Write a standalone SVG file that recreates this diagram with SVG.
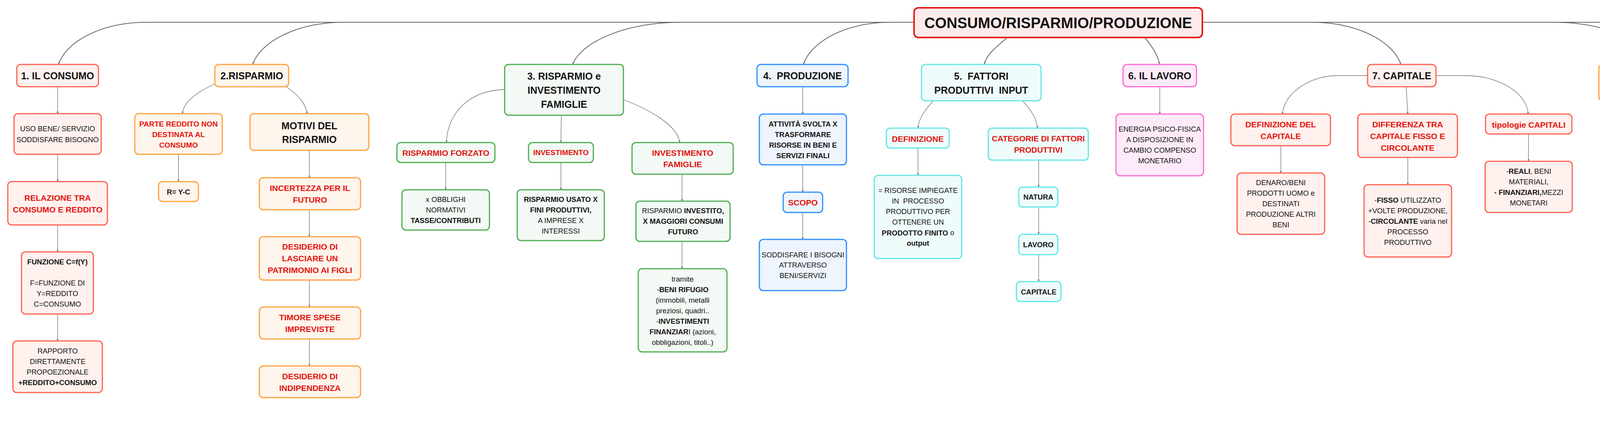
<svg xmlns="http://www.w3.org/2000/svg" width="5420" height="1124" viewBox="0 0 5420 1124" preserveAspectRatio="xMinYMin meet">
<style>
.n{stroke-width:3}
.c1{fill:#FEF1EE;stroke:#FF6150}
.c2{fill:#FEF5EC;stroke:#FFA23F}
.c3{fill:#F3F9F4;stroke:#4CAF50}
.c4{fill:#EEF5FE;stroke:#2E8FFF}
.c5{fill:#EFFCFC;stroke:#63E6E6}
.c6{fill:#FDEBF9;stroke:#FF6AD5}
.c10{fill:#FDEBEB;stroke:#E41B17}
text{font-family:"Liberation Sans",Arial,sans-serif;text-anchor:middle;dominant-baseline:central;fill:#141414}
.h0{font-size:38px;font-weight:700}
.h1{font-size:25px;font-weight:700}
.r{font-size:21px;font-weight:700;fill:#E3120B}
.r20{font-size:20.5px;font-weight:700;fill:#E3120B}
.rs{font-size:19px;font-weight:700;fill:#E3120B}
.k{font-size:18.5px;font-weight:700}
.p{font-size:18.5px}
.b{font-weight:700}
.L{text-anchor:start}
.ln{fill:none;stroke:#6b6b6b;stroke-width:1.3;marker-end:url(#a)}
.lr{fill:none;stroke:#666;stroke-width:2;marker-end:url(#a)}
</style>
<defs>
<marker id="a" markerWidth="6" markerHeight="6" refX="5" refY="3" orient="auto" markerUnits="userSpaceOnUse"><path d="M0,0.5 L5,3 L0,5.5z" fill="#666"/></marker>
</defs>

<g id="connectors">
<path class="lr" d="M2340,57 H377 C252,57 168,110.5 150,164"/>
<path class="lr" d="M2340,57 H882 C753,57 666,110.5 647,164"/>
<path class="lr" d="M2340,57 H1747 C1592,57 1488.5,110.5 1466,164"/>
<path class="lr" d="M2340,57 H2282 C2158,57 2075,110.5 2057,164"/>
<path class="lr" d="M2578,97 C2550,120 2525,140 2520,164"/>
<path class="lr" d="M2931,97 C2950,120 2964,140 2968,164"/>
<path class="lr" d="M3078,57 H3356 C3482.5,57 3567.6,110.5 3586,164"/>
<path class="lr" d="M3078,57 H3977 C4119,57 4215,110.5 4235.5,164"/>
<path class="lr" d="M3078,57 H4470 C4609.5,57 4703.3,110.5 4723.6,164"/>
<path class="lr" d="M3078,57 H4974 C5118.4,57 5215.6,110.5 5236.6,164"/>

<path class="ln" d="M147.5,222 V291"/>
<path class="ln" d="M147.5,395 V465"/>
<path class="ln" d="M147.5,576 V645"/>
<path class="ln" d="M147.5,804 V873"/>

<path class="ln" d="M550,215 C505,235 470,260 467,291"/>
<path class="ln" d="M734,223 C765,245 783,265 786,291"/>
<path class="ln" d="M457,395 V465"/>
<path class="ln" d="M792,385 V455"/>
<path class="ln" d="M792,537 V606"/>
<path class="ln" d="M792,717 V786"/>
<path class="ln" d="M792,868 V937"/>

<path class="ln" d="M1292,229 C1200,232 1145,290 1143,365"/>
<path class="ln" d="M1437,295 L1436,365"/>
<path class="ln" d="M1598,256 C1660,280 1735,320 1740,365"/>
<path class="ln" d="M1141,416 V486"/>
<path class="ln" d="M1436,416 V486"/>
<path class="ln" d="M1746,446 V515"/>
<path class="ln" d="M1746,618 V688"/>

<path class="ln" d="M2055,222 V292"/>
<path class="ln" d="M2055,422 V492"/>
<path class="ln" d="M2055,544 V613"/>

<path class="ln" d="M2389,258 C2365,285 2352,305 2350,328"/>
<path class="ln" d="M2618,258 C2642,285 2654,305 2656,328"/>
<path class="ln" d="M2350,379 V449"/>
<path class="ln" d="M2659,410 V479"/>
<path class="ln" d="M2659,530 V600"/>
<path class="ln" d="M2659,652 V721"/>

<path class="ln" d="M2969,222 V292"/>

<path class="ln" d="M3501,193.5 H3425 C3350,193.5 3287,240 3283,292"/>
<path class="ln" d="M3600,222 C3601,250 3603,270 3604,292"/>
<path class="ln" d="M3675.5,193.5 H3751 C3840,193.5 3910,240 3912,292"/>
<path class="ln" d="M3279,373 V443"/>
<path class="ln" d="M3604,403 V473"/>
<path class="ln" d="M3913,343 V413"/>

<path class="ln" d="M4246,258 V328"/>
<path class="ln" d="M4246,410 V479"/>
<path class="ln" d="M4246,637 V706"/>
<path class="ln" d="M4246,758 V828"/>
<path class="ln" d="M4246,931 V1001"/>

<path class="ln" d="M4621,258 C4598,285 4582,305 4578.5,328"/>
<path class="ln" d="M4845,258 C4868,285 4884,305 4888,328"/>
<path class="ln" d="M4571,439 V509"/>
<path class="ln" d="M4896,439 V509"/>

<path class="ln" d="M5247,258 V328"/>
<path class="ln" d="M5247,459 V528"/>
</g>

<g id="root"><rect class="c10" x="2340" y="20" width="738" height="76" rx="11" stroke-width="4"/><text class="h0" x="2709" y="59">CONSUMO/RISPARMIO/PRODUZIONE</text></g>

<g id="n1"><rect class="n c1" x="43" y="165" width="209" height="57" rx="10"/><text class="h1" x="147.5" y="193.5">1. IL CONSUMO</text></g>
<g id="n1a"><rect class="n c1" x="36" y="291" width="223" height="104" rx="10"/><text class="p" x="147.5" y="329">USO BENE/ SERVIZIO</text><text class="p" x="147.5" y="357">SODDISFARE BISOGNO</text></g>
<g id="n1b"><rect class="n c1" x="20" y="465" width="255" height="111" rx="10"/><text class="r" x="147.5" y="506">RELAZIONE TRA</text><text class="r" x="147.5" y="536">CONSUMO E REDDITO</text></g>
<g id="n1c"><rect class="n c1" x="55" y="645" width="184" height="159" rx="10"/><text class="k" x="147" y="670">FUNZIONE C=f(Y)</text><text class="p" x="147" y="724">F=FUNZIONE DI</text><text class="p" x="147" y="751">Y=REDDITO</text><text class="p" x="147" y="778">C=CONSUMO</text></g>
<g id="n1d"><rect class="n c1" x="33" y="873" width="229" height="132" rx="10"/><text class="p" x="147.5" y="898">RAPPORTO</text><text class="p" x="147.5" y="925">DIRETTAMENTE</text><text class="p" x="147.5" y="952">PROPOEZIONALE</text><text class="k" x="147.5" y="979">+REDDITO+CONSUMO</text></g>

<g id="n2"><rect class="n c2" x="550" y="165" width="189" height="57" rx="10"/><text class="h1" x="644.5" y="193.5">2.RISPARMIO</text></g>
<g id="n2a"><rect class="n c2" x="345" y="291" width="224" height="104" rx="10"/><text class="rs" x="457" y="317">PARTE REDDITO NON</text><text class="rs" x="457" y="344">DESTINATA AL</text><text class="rs" x="457" y="371">CONSUMO</text></g>
<g id="n2b"><rect class="n c2" x="406" y="465" width="102" height="51" rx="10"/><text class="k" x="457" y="491">R= Y-C</text></g>
<g id="n2c"><rect class="n c2" x="640" y="291" width="304" height="94" rx="10"/><text class="h1" x="792" y="321.5">MOTIVI DEL</text><text class="h1" x="792" y="357">RISPARMIO</text></g>
<g id="n2d"><rect class="n c2" x="664" y="455" width="259" height="82" rx="10"/><text class="r" x="793.5" y="481">INCERTEZZA PER IL</text><text class="r" x="793.5" y="511">FUTURO</text></g>
<g id="n2e"><rect class="n c2" x="664" y="606" width="259" height="111" rx="10"/><text class="r" x="793.5" y="631">DESIDERIO DI</text><text class="r" x="793.5" y="661">LASCIARE UN</text><text class="r" x="793.5" y="691">PATRIMONIO AI FIGLI</text></g>
<g id="n2f"><rect class="n c2" x="664" y="786" width="259" height="82" rx="10"/><text class="r" x="793.5" y="812">TIMORE SPESE</text><text class="r" x="793.5" y="842">IMPREVISTE</text></g>
<g id="n2g"><rect class="n c2" x="664" y="937" width="259" height="81" rx="10"/><text class="r" x="793.5" y="963">DESIDERIO DI</text><text class="r" x="793.5" y="993">INDIPENDENZA</text></g>

<g id="n3"><rect class="n c3" x="1292" y="165" width="304" height="130" rx="10"/><text class="h1" x="1444" y="195">3. RISPARMIO e</text><text class="h1" x="1444" y="231">INVESTIMENTO</text><text class="h1" x="1444" y="267">FAMIGLIE</text></g>
<g id="n3a"><rect class="n c3" x="1016" y="365" width="251" height="51" rx="10"/><text class="r" x="1141.5" y="391">RISPARMIO FORZATO</text></g>
<g id="n3b"><rect class="n c3" x="1353" y="365" width="166" height="51" rx="10"/><text class="rs" x="1436" y="390.5">INVESTIMENTO</text></g>
<g id="n3c"><rect class="n c3" x="1618" y="365" width="259" height="81" rx="10"/><text class="r" x="1747.5" y="391">INVESTIMENTO</text><text class="r" x="1747.5" y="420">FAMIGLIE</text></g>
<g id="n3d"><rect class="n c3" x="1029" y="486" width="224" height="103" rx="10"/><text class="p" x="1141" y="510">x OBBLIGHI</text><text class="p" x="1141" y="537">NORMATIVI</text><text class="k" x="1141" y="564">TASSE/CONTRIBUTI</text></g>
<g id="n3e"><rect class="n c3" x="1324" y="486" width="223" height="130" rx="10"/><text class="k" x="1435.5" y="510">RISPARMIO USATO X</text><text class="k" x="1435.5" y="537">FINI PRODUTTIVI,</text><text class="p" x="1435.5" y="564">A IMPRESE X</text><text class="p" x="1435.5" y="591">INTERESSI</text></g>
<g id="n3f"><rect class="n c3" x="1628" y="515" width="241" height="103" rx="10"/><text class="p" x="1748.5" y="539">RISPARMIO <tspan class="b">INVESTITO,</tspan></text><text class="k" x="1748.5" y="566">X MAGGIORI CONSUMI</text><text class="k" x="1748.5" y="593">FUTURO</text></g>
<g id="n3g"><rect class="n c3" x="1634" y="688" width="227" height="213" rx="10"/><text class="p" x="1747.5" y="714">tramite</text><text class="p" x="1747.5" y="741">-<tspan class="b">BENI RIFUGIO</tspan></text><text class="p" x="1747.5" y="768">(immobili, metalli</text><text class="p" x="1747.5" y="795">preziosi, quadri..</text><text class="p" x="1747.5" y="822">-<tspan class="b">INVESTIMENTI</tspan></text><text class="p" x="1747.5" y="849"><tspan class="b">FINANZIAR</tspan>I (azioni,</text><text class="p" x="1747.5" y="876">obbligazioni, titoli..)</text></g>

<g id="n4"><rect class="n c4" x="1938" y="165" width="233" height="57" rx="10"/><text class="h1" x="2054.5" y="193.5">4.&#160; PRODUZIONE</text></g>
<g id="n4a"><rect class="n c4" x="1944" y="292" width="223" height="130" rx="10"/><text class="k" x="2055.5" y="317">ATTIVITÀ SVOLTA X</text><text class="k" x="2055.5" y="344">TRASFORMARE</text><text class="k" x="2055.5" y="371">RISORSE IN BENI E</text><text class="k" x="2055.5" y="398">SERVIZI FINALI</text></g>
<g id="n4b"><rect class="n c4" x="2005" y="492" width="101" height="52" rx="10"/><text class="r" x="2055.5" y="518.5">SCOPO</text></g>
<g id="n4c"><rect class="n c4" x="1944" y="613" width="223" height="131" rx="10"/><text class="p" x="2055.5" y="652">SODDISFARE I BISOGNI</text><text class="p" x="2055.5" y="678.5">ATTRAVERSO</text><text class="p" x="2055.5" y="705.5">BENI/SERVIZI</text></g>

<g id="n5"><rect class="n c5" x="2359" y="165" width="306" height="93" rx="10"/><text class="h1" x="2512" y="195">5.&#160; FATTORI</text><text class="h1" x="2512" y="231">PRODUTTIVI&#160; INPUT</text></g>
<g id="n5a"><rect class="n c5" x="2269" y="328" width="161" height="51" rx="10"/><text class="r" x="2349.5" y="355">DEFINIZIONE</text></g>
<g id="n5b"><rect class="n c5" x="2238" y="449" width="224" height="213" rx="10"/><text class="p" x="2350" y="487.5">= RISORSE IMPIEGATE</text><text class="p" x="2350" y="514.5">IN&#160; PROCESSO</text><text class="p" x="2350" y="541.5">PRODUTTIVO PER</text><text class="p" x="2350" y="568.5">OTTENERE UN</text><text class="p" x="2350" y="595.5"><tspan class="b">PRODOTTO FINITO</tspan> o</text><text class="k" x="2350" y="622.5">output</text></g>
<g id="n5c"><rect class="n c5" x="2530" y="328" width="256" height="82" rx="10"/><text class="r20" x="2658" y="354">CATEGORIE DI FATTORI</text><text class="r20" x="2658" y="383.5">PRODUTTIVI</text></g>
<g id="n5d"><rect class="n c5" x="2608" y="479" width="100" height="51" rx="10"/><text class="k" x="2658" y="504.5">NATURA</text></g>
<g id="n5e"><rect class="n c5" x="2608" y="600" width="100" height="52" rx="10"/><text class="k" x="2658" y="626">LAVORO</text></g>
<g id="n5f"><rect class="n c5" x="2602" y="721" width="114" height="51" rx="10"/><text class="k" x="2659" y="747">CAPITALE</text></g>

<g id="n6"><rect class="n c6" x="2875" y="165" width="188" height="57" rx="10"/><text class="h1" x="2969" y="193.5">6. IL LAVORO</text></g>
<g id="n6a"><rect class="n c6" x="2857" y="292" width="224" height="158" rx="10"/><text class="p" x="2969" y="330.5">ENERGIA PSICO-FISICA</text><text class="p" x="2969" y="357.5">A DISPOSIZIONE IN</text><text class="p" x="2969" y="384.5">CAMBIO COMPENSO</text><text class="p" x="2969" y="411.5">MONETARIO</text></g>

<g id="n7"><rect class="n c1" x="3501" y="165" width="175" height="57" rx="10"/><text class="h1" x="3588.5" y="193.5">7. CAPITALE</text></g>
<g id="n7a"><rect class="n c1" x="3151" y="292" width="255" height="81" rx="10"/><text class="r" x="3278.5" y="318">DEFINIZIONE DEL</text><text class="r" x="3278.5" y="348">CAPITALE</text></g>
<g id="n7b"><rect class="n c1" x="3167" y="443" width="224" height="157" rx="10"/><text class="p" x="3279" y="467">DENARO/BENI</text><text class="p" x="3279" y="494">PRODOTTI UOMO e</text><text class="p" x="3279" y="521">DESTINATI</text><text class="p" x="3279" y="548">PRODUZIONE ALTRI</text><text class="p" x="3279" y="575">BENI</text></g>
<g id="n7c"><rect class="n c1" x="3476" y="292" width="255" height="111" rx="10"/><text class="r" x="3603.5" y="318">DIFFERENZA TRA</text><text class="r" x="3603.5" y="348">CAPITALE FISSO E</text><text class="r" x="3603.5" y="378">CIRCOLANTE</text></g>
<g id="n7d"><rect class="n c1" x="3492" y="473" width="224" height="185" rx="10"/><text class="p" x="3604" y="512">-<tspan class="b">FISSO</tspan> UTILIZZATO</text><text class="p" x="3604" y="539">+VOLTE PRODUZIONE,</text><text class="p" x="3604" y="566">-<tspan class="b">CIRCOLANTE</tspan> varia nel</text><text class="p" x="3604" y="593">PROCESSO</text><text class="p" x="3604" y="620">PRODUTTIVO</text></g>
<g id="n7e"><rect class="n c1" x="3803" y="292" width="221" height="51" rx="10"/><text class="r" x="3913.5" y="319">tipologie CAPITALI</text></g>
<g id="n7f"><rect class="n c1" x="3802" y="413" width="223" height="131" rx="10"/><text class="p" x="3913.5" y="438">-<tspan class="b">REALI</tspan>, BENI</text><text class="p" x="3913.5" y="465">MATERIALI,</text><text class="p" x="3913.5" y="492"><tspan class="b">- FINANZIARI,</tspan>MEZZI</text><text class="p" x="3913.5" y="519">MONETARI</text></g>

<g id="n8"><rect class="n c2" x="4093" y="165" width="306" height="93" rx="10"/><text class="h1" x="4246" y="195">8. ATTIVITA'</text><text class="h1" x="4246" y="231">ORGANIZZATIVA</text></g>
<g id="n8a"><rect class="n c2" x="4119" y="328" width="255" height="82" rx="10"/><text class="r" x="4246.5" y="354">DEFINIZIONE DI</text><text class="r" x="4246.5" y="383.5">IMPRENDITORE</text></g>
<g id="n8b"><rect class="n c2" x="4133" y="479" width="227" height="158" rx="10"/><text class="p" x="4246.5" y="518">ORGANIZZA/GESTISCE</text><text class="p" x="4246.5" y="545">ATTIVITÀ PRODUTTIVA</text><text class="p" x="4246.5" y="572">COMBINANDO</text><text class="p" x="4246.5" y="599">LAVORO/CAPITALE</text></g>
<g id="n8c"><rect class="n c2" x="4196" y="706" width="100" height="52" rx="10"/><text class="r" x="4246" y="732">SCOPO</text></g>
<g id="n8d"><rect class="n c2" x="4134" y="828" width="225" height="103" rx="10"/><text class="p" x="4246.5" y="853">MIGLIOR RISULTATO</text><text class="p" x="4246.5" y="880">PRODUTTIVO tramite</text><text class="p" x="4246.5" y="907">INPUT</text></g>
<g id="n8e"><rect class="n c2" x="4134" y="1001" width="224" height="103" rx="10"/><text class="p" x="4246" y="1038">fondamentale x</text><text class="p" x="4246" y="1065">sopravvivenza azienda</text></g>

<g id="n9"><rect class="n c3" x="4581" y="165" width="305" height="93" rx="10"/><text class="h1" x="4733.5" y="195">9. RUOLO STATO</text><text class="h1" x="4733.5" y="231">NELL'ECONOMIA</text></g>
<g id="n9a"><rect class="n c3" x="4444" y="328" width="255" height="111" rx="10"/><text class="r20" x="4571.5" y="369">STATO COME FATTORE</text><text class="r20" x="4571.5" y="399">DI PRODUZIONE</text></g>
<g id="n9b"><rect class="n c3" x="4769" y="328" width="255" height="111" rx="10"/><text class="r" x="4896.5" y="369">SERVIZI PUBBLICI</text><text class="r" x="4896.5" y="399">FORNITI DALLO STATO</text></g>
<g id="n9c"><rect class="n c3" x="4459" y="509" width="224" height="186" rx="10"/><text class="k" x="4571" y="548">È FATTORE DI</text><text class="k" x="4571" y="575">PRODUZIONE</text><text class="p" x="4571" y="602"><tspan class="b">INDIRETTO</tspan> con LEGGI</text><text class="p" x="4571" y="629">TUTELA ATTIVITÀ</text><text class="p" x="4571" y="656">PRODUTTIVA</text></g>
<g id="n9d"><rect class="n c3" x="4778" y="509" width="236" height="76" rx="10"/><text class="p" x="4896" y="534">GIUSTIZIA,ISTRUZIONE</text><text class="p" x="4896" y="561">SANITÀ,</text></g>

<g id="n10"><rect class="n c10" x="5094" y="165" width="305" height="93" rx="10"/><text class="h1" x="5246.5" y="195">10.DISTRIBUZIONE</text><text class="h1" x="5246.5" y="231">capit</text></g>
<g id="n10a"><rect class="n c10" x="5135" y="328" width="224" height="131" rx="10"/><text class="p" x="5247" y="353">DIVISO TRA COLORO</text><text class="p" x="5247" y="380">CHE HANNO</text><text class="p" x="5247" y="407">PARTECIPATO ALLA</text><text class="p" x="5247" y="434">PRODUZIONE</text></g>
<g id="n10b"><rect class="n c10" x="5135" y="528" width="224" height="241" rx="10"/><text class="k L" x="5140" y="567.5">LAVORATORI-&gt; salari</text><text class="k L" x="5140" y="594.5">PROPRIETARI</text><text class="p L" x="5140" y="621.5"><tspan class="b">IMMOBILI</tspan>--&gt;affitto/</text><text class="p L" x="5140" y="648.5">rendita</text><text class="k L" x="5140" y="675.5">-PROPIETARI CAPITALI</text><text class="k L" x="5140" y="702.5">FINANZIARI-&gt;</text><text class="p L" x="5140" y="729.5">iinvestono/interessi</text></g>
</svg>
